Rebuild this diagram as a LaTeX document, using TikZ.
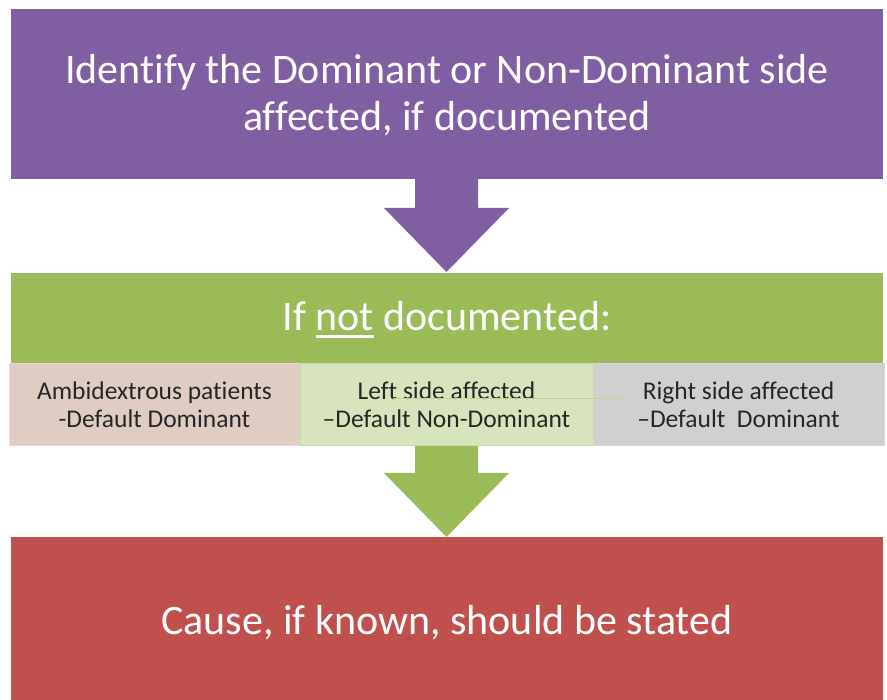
\documentclass[tikz,border=0pt]{standalone}
\usepackage{fontspec}
\setmainfont[Ligatures=NoCommon]{Carlito}
\definecolor{cpurple}{HTML}{7F5FA1}
\definecolor{cgreen}{HTML}{9BBB59}
\definecolor{cred}{HTML}{C0504D}
\definecolor{cpink}{HTML}{DFCDC3}
\definecolor{cpinkb}{HTML}{EED6D6}
\definecolor{clgreen}{HTML}{D7E4BD}
\definecolor{clgreenb}{HTML}{C8DBA4}
\definecolor{cgray}{HTML}{D0D0D0}
\definecolor{cgrayb}{HTML}{DCD4E6}
\definecolor{ctext}{HTML}{262626}
\newcommand\myul[1]{\setbox0\hbox{#1}\rlap{\raisebox{-7pt}{\rule{\wd0}{3pt}}}\box0\relax}
\begin{document}
\begin{tikzpicture}[x=1pt,y=-1pt,
  bigbox/.style={draw=none,inner sep=0pt,outer sep=0pt,anchor=north west,fill=#1},
  bigtext/.style={text=white,align=center,inner sep=0pt,font=\fontsize{42}{47}\selectfont},
  smallbox/.style={inner sep=0pt,outer sep=0pt,anchor=north west,text=ctext,align=center,line width=1pt,
    font=\fontsize{25.5}{28}\selectfont}]
\useasboundingbox (0,0) rectangle (887,700);
% arrows (behind boxes)
\fill[cpurple] (415,170) -- (478,170) -- (478,208) -- (509,208) -- (446.5,272) -- (384,208) -- (415,208) -- cycle;
\fill[cgreen] (415,440) -- (478,440) -- (478,473) -- (509,473) -- (446.5,537) -- (384,473) -- (415,473) -- cycle;
% top box
\node[bigbox=cpurple,minimum width=872pt,minimum height=170pt] (top) at (11,9) {};
\node[bigtext] (toptext) at ([yshift=-1pt]top.center)
  {Identify the Dominant or Non-Dominant side\\affected, if documented};
% green box
\node[bigbox=cgreen,minimum width=872pt,minimum height=91pt] (mid) at (11,273) {};
\node[bigtext] (midtext) at ([yshift=-1pt]mid.center) {If \myul{not} documented:};
% small boxes
\node[smallbox,fill=cpink,draw=cpinkb,minimum width=291pt,minimum height=82pt] (left) at (9,364)
  {Ambidextrous patients\\-Default Dominant};
\node[smallbox,fill=cgray,draw=cgrayb,minimum width=291pt,minimum height=82pt] (right) at (593,364)
  {Right side affected\\–Default\ \ Dominant};
\node[smallbox,fill=clgreen,draw=clgreenb,minimum width=293pt,minimum height=82pt] (center) at (300,364)
  {Left side affected\\–Default Non-Dominant};
\coordinate (ls) at (393,398);
\coordinate (le) at (623,398);
\draw[clgreenb!80!cgreen,line width=0.6pt] (ls) -- (le);
% red box
\node[bigbox=cred,minimum width=872pt,minimum height=163pt] (bot) at (11,537) {};
\node[bigtext] (bottext) at ([yshift=-4pt]bot.center) {Cause, if known, should be stated};
\end{tikzpicture}
\end{document}
